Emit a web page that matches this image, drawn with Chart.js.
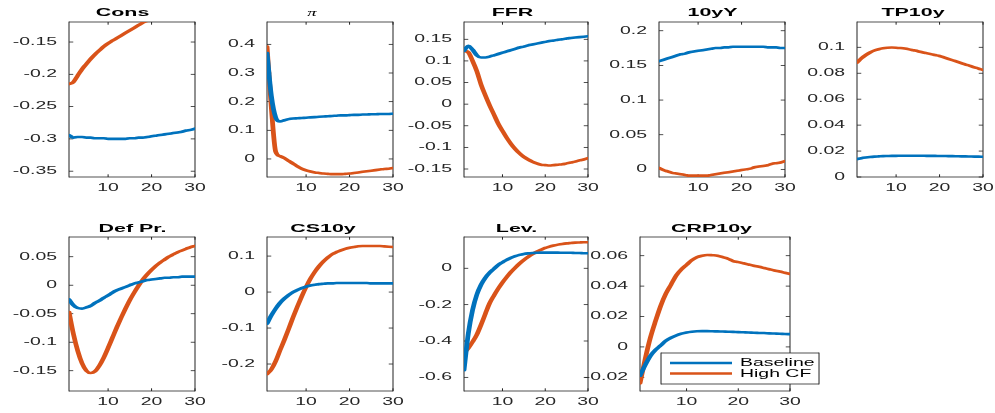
<!DOCTYPE html>
<html><head><meta charset="utf-8">
<script src="https://cdn.jsdelivr.net/npm/chart.js@4"></script>
<style>
html,body{margin:0;padding:0;background:#fff;overflow:hidden;width:995px;height:413px}
#wrap{position:absolute;left:0;top:0;width:995px;height:413px;overflow:hidden}
#wrap canvas{position:absolute}
</style></head><body><div id="wrap"></div>
<script>
// ---------------- data ----------------
const steps = [1,2,3,4,5,6,7,8,9,10,11,12,13,14,15,16,17,18,19,20,21,22,23,24,25,26,27,28,29,30];
const seriesNames = ['Baseline', 'High CF'];
const titles = ['Cons', 'π', 'FFR', '10yY', 'TP10y', 'Def Pr.', 'CS10y', 'Lev.', 'CRP10y'];
const xTicks = [10, 20, 30];

const consBase = [-0.294,-0.298,-0.297,-0.297,-0.298,-0.298,-0.299,-0.299,-0.299,-0.300,-0.300,-0.300,-0.300,-0.300,-0.299,-0.299,-0.298,-0.298,-0.297,-0.296,-0.295,-0.294,-0.293,-0.292,-0.291,-0.290,-0.289,-0.287,-0.286,-0.284];
const consHigh = [-0.215,-0.212,-0.202,-0.192,-0.184,-0.176,-0.169,-0.163,-0.157,-0.152,-0.148,-0.144,-0.140,-0.136,-0.132,-0.128,-0.124,-0.120,-0.117,-0.114,-0.111,-0.108,-0.105,-0.103,-0.100,-0.098,-0.096,-0.094,-0.092,-0.090];
const piBase = [0.370,0.220,0.145,0.131,0.135,0.139,0.141,0.142,0.143,0.144,0.145,0.146,0.147,0.148,0.149,0.150,0.151,0.152,0.152,0.153,0.154,0.154,0.155,0.155,0.156,0.156,0.157,0.157,0.157,0.158];
const piHigh = [0.392,0.180,0.025,0.010,0.003,-0.007,-0.016,-0.026,-0.034,-0.040,-0.044,-0.047,-0.049,-0.051,-0.052,-0.053,-0.053,-0.053,-0.052,-0.051,-0.049,-0.047,-0.045,-0.043,-0.041,-0.039,-0.037,-0.035,-0.034,-0.032];
const ffrBase = [0.123,0.135,0.126,0.113,0.108,0.108,0.110,0.113,0.116,0.119,0.122,0.125,0.128,0.131,0.133,0.136,0.138,0.140,0.142,0.144,0.146,0.147,0.149,0.150,0.152,0.153,0.154,0.155,0.156,0.157];
const ffrHigh = [0.123,0.120,0.100,0.076,0.045,0.020,-0.003,-0.024,-0.045,-0.062,-0.078,-0.092,-0.104,-0.114,-0.122,-0.128,-0.133,-0.137,-0.140,-0.141,-0.142,-0.141,-0.140,-0.139,-0.137,-0.135,-0.133,-0.130,-0.128,-0.125];
const y10Base = [0.156,0.158,0.160,0.162,0.164,0.166,0.167,0.169,0.170,0.171,0.172,0.173,0.174,0.175,0.175,0.176,0.176,0.177,0.177,0.177,0.177,0.177,0.177,0.177,0.177,0.176,0.176,0.176,0.175,0.175];
const y10High = [0.002,-0.001,-0.003,-0.005,-0.006,-0.007,-0.008,-0.009,-0.009,-0.009,-0.009,-0.009,-0.008,-0.007,-0.006,-0.005,-0.004,-0.003,-0.002,-0.001,0.000,0.001,0.003,0.004,0.005,0.006,0.008,0.009,0.010,0.012];
const tpBase = [0.0138,0.0145,0.0150,0.0154,0.0157,0.0159,0.0161,0.0162,0.0163,0.0163,0.0164,0.0164,0.0164,0.0164,0.0164,0.0164,0.0163,0.0163,0.0163,0.0162,0.0162,0.0161,0.0161,0.0160,0.0159,0.0159,0.0158,0.0157,0.0157,0.0156];
const tpHigh = [0.0882,0.0915,0.0940,0.0960,0.0975,0.0985,0.0992,0.0996,0.0998,0.0997,0.0994,0.0990,0.0984,0.0977,0.0970,0.0962,0.0955,0.0947,0.0940,0.0933,0.0922,0.0911,0.0900,0.0889,0.0878,0.0867,0.0857,0.0846,0.0836,0.0825];
const defBase = [-0.025,-0.035,-0.040,-0.041,-0.039,-0.036,-0.031,-0.027,-0.022,-0.018,-0.013,-0.009,-0.006,-0.003,0.000,0.003,0.005,0.007,0.009,0.010,0.011,0.012,0.013,0.013,0.014,0.014,0.015,0.015,0.015,0.015];
const defHigh = [-0.047,-0.085,-0.115,-0.137,-0.150,-0.154,-0.151,-0.141,-0.127,-0.110,-0.092,-0.074,-0.057,-0.041,-0.026,-0.013,-0.001,0.010,0.019,0.027,0.034,0.040,0.045,0.050,0.054,0.058,0.061,0.064,0.067,0.069];
const csBase = [-0.088,-0.065,-0.046,-0.030,-0.018,-0.008,0.000,0.006,0.011,0.015,0.018,0.020,0.022,0.023,0.024,0.024,0.025,0.025,0.025,0.025,0.025,0.025,0.025,0.025,0.024,0.024,0.024,0.024,0.024,0.024];
const csHigh = [-0.228,-0.215,-0.192,-0.162,-0.133,-0.102,-0.070,-0.040,-0.012,0.014,0.037,0.056,0.072,0.085,0.096,0.105,0.111,0.116,0.120,0.123,0.125,0.127,0.128,0.128,0.128,0.128,0.128,0.127,0.126,0.125];
const levBase = [-0.560,-0.360,-0.230,-0.145,-0.090,-0.052,-0.024,-0.003,0.018,0.033,0.046,0.058,0.067,0.074,0.079,0.082,0.084,0.085,0.086,0.086,0.086,0.086,0.086,0.085,0.085,0.085,0.084,0.084,0.083,0.083];
const levHigh = [-0.468,-0.440,-0.405,-0.365,-0.310,-0.250,-0.192,-0.150,-0.112,-0.078,-0.048,-0.020,0.004,0.026,0.046,0.063,0.078,0.091,0.102,0.112,0.119,0.125,0.130,0.134,0.137,0.139,0.141,0.142,0.143,0.143];
const crpBase = [-0.019,-0.012,-0.006,-0.002,0.001,0.004,0.006,0.0075,0.0087,0.0095,0.0100,0.0103,0.0104,0.0104,0.0103,0.0102,0.0101,0.0100,0.0099,0.0097,0.0096,0.0095,0.0093,0.0092,0.0091,0.0089,0.0088,0.0087,0.0085,0.0084];
const crpHigh = [-0.024,-0.008,0.006,0.017,0.027,0.035,0.041,0.047,0.051,0.054,0.057,0.059,0.060,0.0605,0.0603,0.060,0.059,0.058,0.0565,0.0558,0.055,0.0542,0.0534,0.0527,0.0519,0.0511,0.0503,0.0496,0.0488,0.048];

const consTicks = [-0.35,-0.3,-0.25,-0.2,-0.15];
const piTicks = [0,0.1,0.2,0.3,0.4];
const ffrTicks = [-0.15,-0.1,-0.05,0,0.05,0.1,0.15];
const y10Ticks = [0,0.05,0.1,0.15,0.2];
const tpTicks = [0,0.02,0.04,0.06,0.08,0.1];
const defTicks = [-0.15,-0.1,-0.05,0,0.05];
const csTicks = [-0.2,-0.1,0,0.1];
const levTicks = [-0.6,-0.4,-0.2,0];
const crpTicks = [-0.02,0,0.02,0.04,0.06];

const baseSeries = [consBase, piBase, ffrBase, y10Base, tpBase, defBase, csBase, levBase, crpBase];
const highSeries = [consHigh, piHigh, ffrHigh, y10High, tpHigh, defHigh, csHigh, levHigh, crpHigh];
const yTickSets = [consTicks, piTicks, ffrTicks, y10Ticks, tpTicks, defTicks, csTicks, levTicks, crpTicks];
const yLimits = [[-0.359,-0.119],[-0.063,0.478],[-0.1685,0.190],[-0.011,0.2126],[0,0.1195],[-0.1856,0.0846],[-0.275,0.153],[-0.675,0.172],[-0.029,0.0723]];

// ---------------- layout / style ----------------
const S = 1.85;               // horizontal stretch of the whole figure (text included)
const boxes = [               // [left, top, width, height] of each axes in page px
  [69,22,126,155],[267,22,126,155],[464,22,124,155],[659,22,126,155],[857,22,126,155],
  [69,237,126,154],[267,237,126,154],[464,237,124,154],[640,237,150,154]
];
const titleCenters = [122.5, 312, 512.5, 712.5, 913, 132.5, 323, 516.5, 711.5];  // page px
const COL_BASE = '#0072BD', COL_HIGH = '#D95319', AX = '#262626';
const FONT = "'Liberation Sans', Arial, sans-serif";
const TICK_FONT = {family: FONT, size: 10.5};
const wrap = document.getElementById('wrap');

const fmt = v => String(Math.round(v * 10000) / 10000);

// stretch everything the chart draws horizontally by S
const stretch = {
  id: 'stretch',
  beforeDraw(chart) { chart.ctx.setTransform(S, 0, 0, 1, 0, 0); }
};

const panelTitle = {
  id: 'panelTitle',
  afterDraw(chart, args, opts) {
    const {ctx, chartArea: a} = chart;
    ctx.save();
    ctx.font = opts.font;
    ctx.fillStyle = '#000';
    ctx.textAlign = 'center';
    ctx.textBaseline = 'alphabetic';
    ctx.fillText(opts.text, a.left + (opts.cx - opts.L) / S, a.top - opts.dy);
    ctx.restore();
  }
};

const matlabAxes = {
  id: 'matlabAxes',
  beforeDatasetsDraw(chart) {
    const {ctx, chartArea: a, scales: {x, y}} = chart;
    const vw = 0.55, hw = 0.8, ytl = 2.3, xtl = 2.7;
    ctx.save();
    ctx.fillStyle = AX;
    ctx.fillRect(a.left - vw / 2, a.top - hw / 2, vw, a.bottom - a.top + hw);
    ctx.fillRect(a.right - vw / 2, a.top - hw / 2, vw, a.bottom - a.top + hw);
    ctx.fillRect(a.left, a.top - hw / 2, a.right - a.left, hw);
    ctx.fillRect(a.left, a.bottom - hw / 2, a.right - a.left, hw);
    y.ticks.forEach(t => {
      const py = y.getPixelForValue(t.value);
      ctx.fillRect(a.left, py - hw / 2, ytl, hw);
      ctx.fillRect(a.right - ytl, py - hw / 2, ytl, hw);
    });
    x.ticks.forEach(t => {
      const px = x.getPixelForValue(t.value);
      ctx.fillRect(px - vw / 2, a.bottom - xtl, vw, xtl);
      ctx.fillRect(px - vw / 2, a.top, vw, xtl);
    });
    ctx.restore();
  }
};

const matlabLegend = {
  id: 'matlabLegend',
  afterDraw(chart, args, opts) {
    if (!opts.show) return;
    const {ctx, chartArea: a} = chart;
    const X = px => a.left + (px - 640) / S;
    const Y = py => a.top + (py - 237);
    const x0 = X(661), x1 = X(819), y0 = Y(353), y1 = Y(384);
    ctx.save();
    ctx.fillStyle = '#fff';
    ctx.fillRect(x0, y0, x1 - x0, y1 - y0);
    ctx.fillStyle = AX;
    ctx.fillRect(x0 - 0.27, y0 - 0.4, 0.55, y1 - y0 + 0.8);
    ctx.fillRect(x1 - 0.27, y0 - 0.4, 0.55, y1 - y0 + 0.8);
    ctx.fillRect(x0, y0 - 0.4, x1 - x0, 0.8);
    ctx.fillRect(x0, y1 - 0.4, x1 - x0, 0.8);
    const rows = [363, 373.5];
    chart.data.datasets.forEach((ds, i) => {
      const yy = Y(rows[i]);
      ctx.strokeStyle = ds.borderColor;
      ctx.lineWidth = 2.4;
      ctx.beginPath();
      ctx.moveTo(X(670), yy);
      ctx.lineTo(X(732), yy);
      ctx.stroke();
      ctx.fillStyle = '#000';
      ctx.font = '10.5px ' + FONT;
      ctx.textBaseline = 'middle';
      ctx.textAlign = 'left';
      ctx.fillText(ds.label, X(740), yy + 0.5);
    });
    ctx.restore();
  }
};

function makePanel(i) {
  const [L, T, W, H] = boxes[i];
  const ML = 66, MR = 66;
  const TH = 20, XB = 24;
  const c = document.createElement('canvas');
  const wL = Math.ceil((W + ML + MR) / S);
  const hL = Math.ceil(TH + H + XB);
  c.width = wL; c.height = hL;
  c.style.left = (L - ML) + 'px';
  c.style.top = (T - TH) + 'px';
  wrap.appendChild(c);
  const isPi = titles[i] === 'π';
  const chart = new Chart(c, {
    type: 'line',
    data: {
      labels: steps,
      datasets: [
        {label: seriesNames[0], data: steps.map((s, k) => ({x: s, y: baseSeries[i][k]})), borderColor: COL_BASE},
        {label: seriesNames[1], data: steps.map((s, k) => ({x: s, y: highSeries[i][k]})), borderColor: COL_HIGH}
      ]
    },
    options: {
      responsive: false,
      animation: false,
      devicePixelRatio: 1,
      layout: {padding: {left: 0, top: TH, right: wL - (ML + W) / S, bottom: 0}},
      elements: {
        line: {borderWidth: 2.6, cubicInterpolationMode: 'monotone', borderCapStyle: 'round', borderJoinStyle: 'round'},
        point: {radius: 0, hoverRadius: 0}
      },
      plugins: {
        legend: {display: false},
        tooltip: {enabled: false},
        title: {display: false},
        panelTitle: {
          text: titles[i], cx: titleCenters[i], L: L,
          dy: i < 5 ? 6.3 : 5.3,
          font: isPi ? "italic 10px 'Liberation Serif', serif" : "bold 11.6px " + FONT
        },
        matlabLegend: {show: i === 8}
      },
      scales: {
        x: {
          type: 'linear', min: 1, max: 30,
          afterBuildTicks: s => { s.ticks = xTicks.map(v => ({value: v})); },
          afterFit: s => { s.height = hL - TH - H; s.paddingLeft = 0; s.paddingRight = 0; },
          grid: {display: false, drawTicks: false},
          border: {display: false},
          ticks: {color: AX, font: TICK_FONT, padding: 5, maxRotation: 0, autoSkip: false, callback: v => fmt(v)}
        },
        y: {
          type: 'linear', min: yLimits[i][0], max: yLimits[i][1],
          afterBuildTicks: s => { s.ticks = yTickSets[i].map(v => ({value: v})); },
          afterFit: s => { s.width = ML / S; s.paddingTop = 0; s.paddingBottom = 0; },
          grid: {display: false, drawTicks: false},
          border: {display: false},
          ticks: {color: AX, font: TICK_FONT, padding: 12 / S, autoSkip: false, callback: v => fmt(v)}
        }
      }
    },
    plugins: [stretch, matlabAxes, panelTitle, matlabLegend]
  });
  c.width = Math.round(wL * S);
  c.height = hL;
  c.style.width = c.width + 'px';
  c.style.height = hL + 'px';
  chart.draw();
}
for (let i = 0; i < 9; i++) makePanel(i);
</script>
</body></html>
